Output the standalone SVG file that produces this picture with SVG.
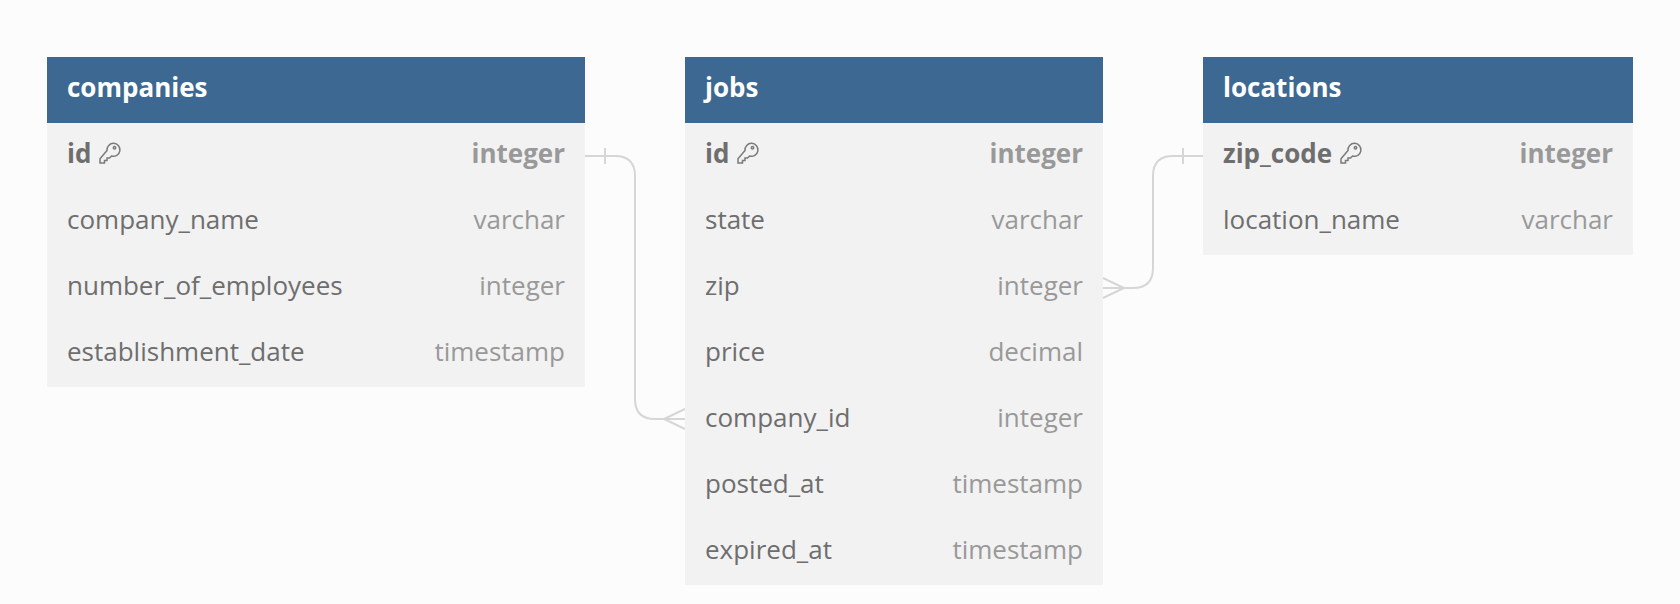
<svg xmlns="http://www.w3.org/2000/svg" width="1680" height="604" viewBox="0 0 1680 604">
<style>
text{font-family:"Open Sans","Noto Sans",sans-serif;font-size:26px}
.h{fill:#3d6892}.b{fill:#f2f2f2}
.t{fill:#fff;font-weight:700}
.n{fill:#6e6e6e}.k{fill:#6e6e6e;font-weight:700}
.y{fill:#999;text-anchor:end}.yk{fill:#999;text-anchor:end;font-weight:700}
.c{fill:none;stroke:#d6d6d6;stroke-width:2}
.i{fill:none;stroke:#7a7a7a;stroke-width:1.5}
</style>
<defs><g id="key"><path class="i" d="M8 9.5a6.5 6.5 0 1 1 4.5 5.5l-2 2h-2.5v2.5h-2.5v2.5h-4.5v-4.2z M15.5 5.5a1.2 1.2 0 1 0 .01 0z" transform="translate(1 -1)"/></g></defs>
<rect width="1680" height="604" fill="#fcfcfc"/>
<g id="connectors">
<path class="c" d="M585 156H615Q635 156 635 176V399Q635 419 655 419H685"/>
<path class="c" d="M605 148V164M685 409L664 419L685 429"/>
<path class="c" d="M1103 288H1133Q1153 288 1153 268V176Q1153 156 1173 156H1203"/>
<path class="c" d="M1183 148V164M1103 278L1124 288L1103 298"/>
</g>
<g id="companies">
<rect class="b" x="47" y="57" width="538" height="330"/><rect class="h" x="47" y="57" width="538" height="66"/>
<text class="t" x="67" y="97">companies</text>
<text class="k" x="67" y="163">id</text><use href="#key" x="98" y="142"/><text class="yk" x="565" y="163">integer</text>
<text class="n" x="67" y="229">company_name</text><text class="y" x="565" y="229">varchar</text>
<text class="n" x="67" y="295">number_of_employees</text><text class="y" x="565" y="295">integer</text>
<text class="n" x="67" y="361">establishment_date</text><text class="y" x="565" y="361">timestamp</text>
</g>
<g id="jobs">
<rect class="b" x="685" y="57" width="418" height="528"/><rect class="h" x="685" y="57" width="418" height="66"/>
<text class="t" x="705" y="97">jobs</text>
<text class="k" x="705" y="163">id</text><use href="#key" x="736" y="142"/><text class="yk" x="1083" y="163">integer</text>
<text class="n" x="705" y="229">state</text><text class="y" x="1083" y="229">varchar</text>
<text class="n" x="705" y="295">zip</text><text class="y" x="1083" y="295">integer</text>
<text class="n" x="705" y="361">price</text><text class="y" x="1083" y="361">decimal</text>
<text class="n" x="705" y="427">company_id</text><text class="y" x="1083" y="427">integer</text>
<text class="n" x="705" y="493">posted_at</text><text class="y" x="1083" y="493">timestamp</text>
<text class="n" x="705" y="559">expired_at</text><text class="y" x="1083" y="559">timestamp</text>
</g>
<g id="locations">
<rect class="b" x="1203" y="57" width="430" height="198"/><rect class="h" x="1203" y="57" width="430" height="66"/>
<text class="t" x="1223" y="97">locations</text>
<text class="k" x="1223" y="163">zip_code</text><use href="#key" x="1339" y="142"/><text class="yk" x="1613" y="163">integer</text>
<text class="n" x="1223" y="229">location_name</text><text class="y" x="1613" y="229">varchar</text>
</g>
</svg>
